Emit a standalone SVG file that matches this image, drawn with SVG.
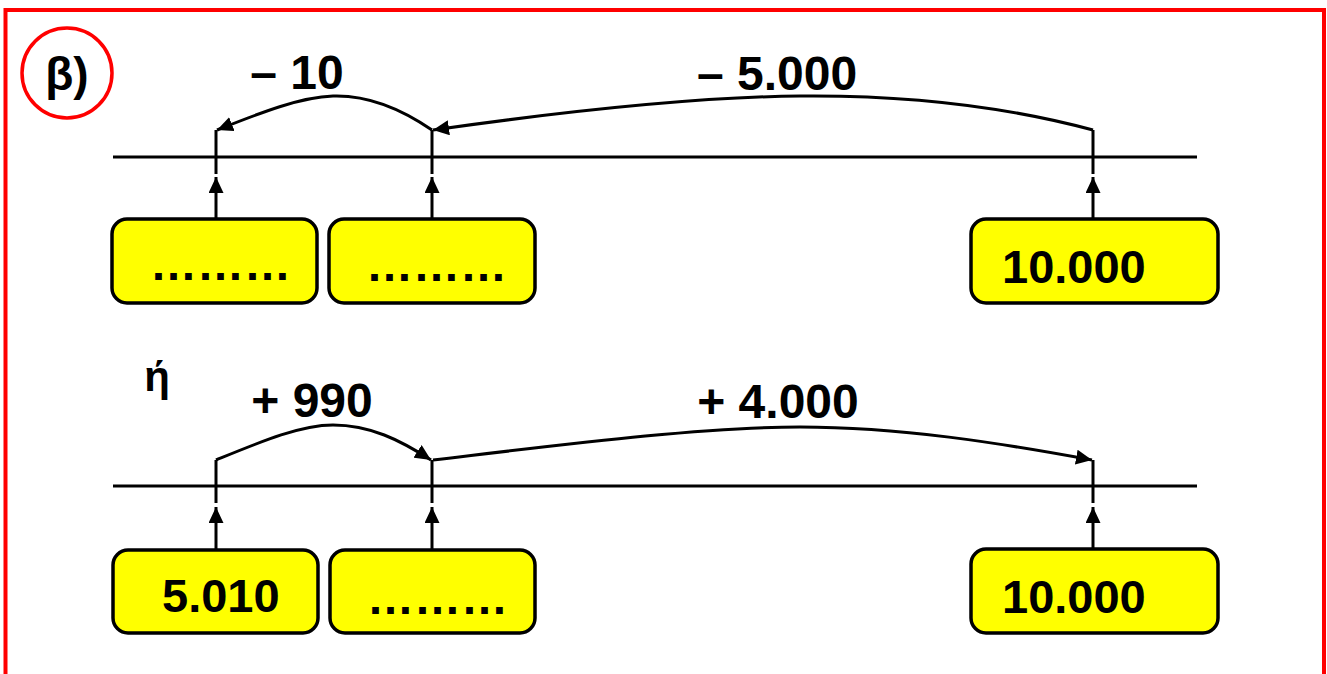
<svg xmlns="http://www.w3.org/2000/svg" width="1327" height="674" viewBox="0 0 1327 674">
<style>
.t{font-family:"Liberation Sans",Arial,sans-serif;font-weight:bold;fill:#000}
.lbl{font-size:48px;text-anchor:middle}
.val{font-size:47px}
.box{fill:#FFFF00;stroke:#000;stroke-width:3.5}
.ln{stroke:#000;stroke-width:3;fill:none}
</style>
<defs>
<marker id="ah" markerUnits="userSpaceOnUse" markerWidth="17" markerHeight="15" refX="16" refY="7.5" orient="auto">
<path d="M0,0 L16,7.5 L0,15 z" fill="#000"/>
</marker>
</defs>
<rect x="5.5" y="10" width="1318.5" height="700" fill="none" stroke="#FF0000" stroke-width="4"/>
<g id="label-beta">
<circle cx="67" cy="73" r="45" fill="none" stroke="#FF0000" stroke-width="3.5"/>
<text class="t" x="67" y="90" font-size="46" text-anchor="middle">β)</text>
</g>
<text class="t" x="157" y="391" font-size="42" text-anchor="middle">ή</text>
<g id="axes">
<line class="ln" x1="113" y1="157" x2="1197" y2="157"/>
<line class="ln" x1="113" y1="486" x2="1197" y2="486"/>
</g>
<g id="top-row">
<g id="t-box1"><rect class="box" x="112" y="219" width="205" height="84" rx="15"/><text class="t val" x="150" y="280">………</text></g>
<g id="t-box2"><rect class="box" x="329" y="219" width="206" height="84" rx="15"/><text class="t val" x="366" y="281">………</text></g>
<g id="t-box3"><rect class="box" x="971" y="219" width="247" height="84" rx="15"/><text class="t val" x="1002" y="283">10.000</text></g>
</g>
<g id="bottom-row">
<g id="b-box1"><rect class="box" x="113" y="550" width="205" height="83" rx="15"/><text class="t val" x="162" y="612">5.010</text></g>
<g id="b-box2"><rect class="box" x="330" y="550" width="205" height="83" rx="15"/><text class="t val" x="367" y="614">………</text></g>
<g id="b-box3"><rect class="box" x="971" y="549" width="247" height="84" rx="15"/><text class="t val" x="1002" y="613">10.000</text></g>
</g>
<g id="connectors">
<line class="ln" x1="216" y1="130" x2="216" y2="174"/>
<line class="ln" x1="432" y1="130" x2="432" y2="174"/>
<line class="ln" x1="1093" y1="130" x2="1093" y2="174"/>
<line class="ln" x1="216" y1="219" x2="216" y2="177" marker-end="url(#ah)"/>
<line class="ln" x1="432" y1="219" x2="432" y2="177" marker-end="url(#ah)"/>
<line class="ln" x1="1093" y1="219" x2="1093" y2="177" marker-end="url(#ah)"/>
<path class="ln" d="M432,130 C400,108 365,95 333,96 C300,97 260,113 217,130" marker-end="url(#ah)"/>
<path class="ln" d="M1093,130 C1000,105 900,95 800,96 C700,97 560,112 433,130" marker-end="url(#ah)"/>
<line class="ln" x1="216" y1="460" x2="216" y2="503"/>
<line class="ln" x1="432" y1="460" x2="432" y2="503"/>
<line class="ln" x1="1093" y1="460" x2="1093" y2="503"/>
<line class="ln" x1="216" y1="550" x2="216" y2="507" marker-end="url(#ah)"/>
<line class="ln" x1="432" y1="550" x2="432" y2="507" marker-end="url(#ah)"/>
<line class="ln" x1="1093" y1="549" x2="1093" y2="507" marker-end="url(#ah)"/>
<path class="ln" d="M216,460 C260,442 300,425 333,425 C370,425 400,440 431,460" marker-end="url(#ah)"/>
<path class="ln" d="M433,460 C560,445 700,427 800,427 C900,427 1000,443 1092,460" marker-end="url(#ah)"/>
<text class="t lbl" x="297" y="89">– 10</text>
<text class="t lbl" x="777" y="90">– 5.000</text>
<text class="t lbl" x="312" y="417">+ 990</text>
<text class="t lbl" x="778" y="418">+ 4.000</text>
</g>
</svg>
